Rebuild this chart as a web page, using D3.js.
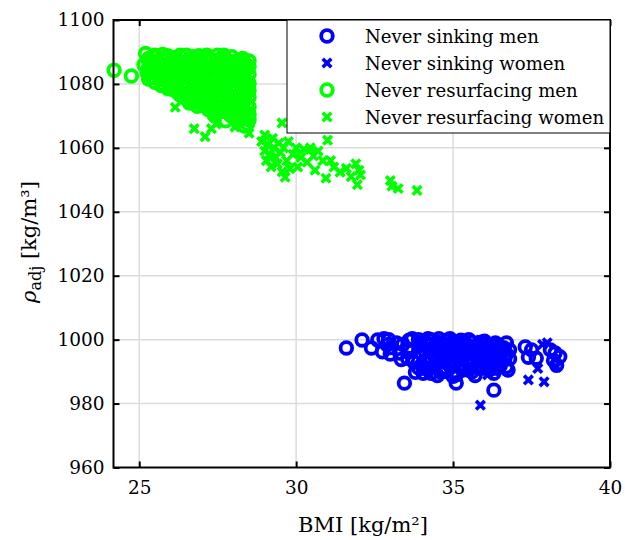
<!DOCTYPE html>
<html>
<head>
<meta charset="utf-8">
<script src="https://cdn.jsdelivr.net/npm/d3@7"></script>
<style>
  html, body { margin: 0; padding: 0; background: #fff; }
  svg text { font-family: "DejaVu Serif", serif; fill: #000; }
</style>
</head>
<body>
<svg id="chart" width="625" height="540"></svg>
<script>
// [BMI, rho_adj] pairs for each group
const sinkingMen = [
  [31.6,997.4],[32.1,999.9],[32.4,997.4],[32.6,999.9],[32.8,1000.3],[32.75,996.2],[33.2,999.0],
  [33.3,995.8],[33.55,994.2],[33.7,1000.3],[33.45,986.4],[33.9,991.2],[35.1,986.4],[34.6,989.9],
  [35.6,989.9],[36.3,984.2],[36.5,995.2],[36.7,991.5],[37.3,997.7],[37.65,994.2],[37.5,996.8],
  [38.1,996.8],[38.4,994.7],[38.3,992.0],[38.25,995.8],[36.8,996.8],
  [33.6,997.0],[33.75,993.0],[33.8,989.8],[33.9,998.0],[34.0,995.5],[34.1,999.5],[34.15,993.0],
  [34.25,997.0],[34.3,1000.0],[34.35,991.5],[34.4,995.0],[34.45,998.5],[34.5,993.5],[34.55,1000.3],
  [34.6,996.5],[34.65,991.0],[34.7,998.5],[34.75,994.5],[34.8,999.8],[34.85,992.5],[34.9,997.0],
  [34.95,995.0],[35.0,999.5],[35.05,990.0],[35.1,993.0],[35.15,997.5],[35.2,995.5],[35.25,999.8],
  [35.3,992.0],[35.35,996.5],[35.4,998.8],[35.45,994.0],[35.5,990.5],[35.55,997.0],[35.6,999.2],
  [35.65,993.0],[35.7,995.5],[35.75,991.5],[35.8,998.0],[35.85,994.0],[35.9,996.5],[36.0,992.5],
  [36.05,998.8],[36.1,995.0],[36.15,990.5],[36.2,997.0],[36.3,993.5],[36.35,999.0],[36.4,991.0],
  [36.45,995.8],[36.55,993.0],[36.6,997.5],[36.75,990.5],[36.8,994.0],[34.05,989.5],[34.2,1000.3],
  [34.5,988.8],[35.0,988.5],[35.3,995.0],[34.3,997.0],[34.8,996.0],[35.6,996.0],[36.0,999.5],
  [34.0,992.0],[33.4,998.5],[33.0,997.5],[32.95,1000.0],[37.4,994.5],[38.2,993.5],[36.65,994.0],
  [33.9,996.2],[33.9,1000.0],[34.1,991.0],[34.1,996.5],[34.3,989.5],[34.3,994.0],[34.3,998.5],
  [34.5,996.0],[34.5,999.2],[34.7,990.0],[34.7,993.0],[34.7,996.8],[34.9,992.0],[34.9,998.2],
  [34.9,1000.3],[35.1,989.0],[35.1,995.2],[35.1,998.5],[35.3,990.5],[35.3,997.2],[35.5,992.5],
  [35.5,995.5],[35.5,1000.0],[35.7,988.8],[35.7,997.8],[35.9,991.0],[35.9,993.2],[35.9,999.2],
  [36.1,993.0],[36.1,997.8],[36.3,989.5],[36.3,995.5],[36.3,998.2],[36.5,991.8],[36.5,997.0],
  [36.7,995.5],[36.7,999.0],[33.0,995.5],[33.35,993.8],[32.9,998.4],[33.6,999.8]
];
const sinkingWomen = [
  [35.87,979.5],[37.4,987.4],[37.9,986.8],[38.0,999.0],[36.4,999.0],[35.3,1000.3],[35.87,999.9],
  [37.7,991.0],[34.2,989.9],[38.3,991.5],[35.6,999.0],[36.0,995.0],[34.5,991.0],[35.2,993.0],
  [36.6,998.0],[37.85,998.5],[36.1,989.0],[34.9,990.5]
];
const resurfacingMen = [
  [24.2,1084.3],[24.75,1082.5],[25.15,1086.0],[25.2,1089.5],[25.3,1087.0],[25.35,1084.0],[25.4,1082.0],
  [25.5,1080.5],[25.55,1088.5],[25.6,1085.5],[25.7,1083.0],[25.75,1080.0],[25.8,1087.5],[25.9,1085.0],
  [25.95,1082.0],[26.0,1079.0],[26.05,1088.0],[26.1,1084.0],[26.15,1081.0],[26.2,1077.5],[26.25,1086.0],
  [26.3,1083.0],[26.35,1079.5],[26.4,1076.0],[26.5,1089.0],[26.55,1085.5],[26.6,1081.5],[26.65,1078.0],
  [26.7,1074.5],[26.75,1087.0],[26.8,1083.5],[26.85,1080.0],[26.9,1076.5],[26.95,1088.5],[27.0,1085.0],
  [27.05,1078.5],[27.1,1073.0],[27.15,1081.5],[27.2,1088.0],[27.25,1075.5],[27.3,1084.0],[27.35,1079.0],
  [27.4,1070.5],[27.45,1086.5],[27.5,1082.0],[27.55,1076.0],[27.6,1073.0],[27.65,1088.0],[27.7,1080.0],
  [27.75,1084.5],[27.8,1077.0],[27.85,1071.0],[27.9,1087.0],[27.95,1082.5],[28.0,1074.0],[28.05,1079.0],
  [28.1,1085.5],[28.1,1068.5],[28.15,1076.5],[28.2,1082.0],[28.2,1087.5],[28.25,1072.0],[28.3,1079.5],
  [28.3,1084.0],[28.35,1069.0],[28.35,1076.0],[28.4,1086.0],[28.4,1081.0],[28.45,1073.5],[28.45,1067.5],
  [28.5,1078.0],[28.5,1083.0],[28.5,1070.5],[25.25,1083.5],[25.45,1086.0],[25.65,1082.0],[25.85,1084.5],
  [26.0,1086.5],[26.2,1083.5],[26.4,1085.5],[26.45,1080.5],[26.6,1087.5],[26.7,1084.0],[26.8,1079.0],
  [26.95,1082.0],[27.05,1086.5],[27.1,1083.5],[27.2,1079.5],[27.3,1087.5],[27.4,1082.5],[27.45,1077.5],
  [27.55,1084.5],[27.6,1087.0],[27.7,1075.5],[27.8,1082.0],[27.85,1086.0],[27.95,1078.0],[28.0,1084.0],
  [28.05,1071.5],[28.15,1081.0],[28.25,1085.0],[28.3,1075.0],[28.4,1078.5],[28.45,1085.0],[28.2,1070.0],
  [26.6,1074.0],[27.4,1070.0],[26.85,1073.0],[27.2,1072.0],[27.0,1076.0],[26.3,1076.5],[25.95,1078.5],
  [27.65,1071.5],[27.9,1073.0],[28.35,1066.8],[27.75,1068.5],[28.0,1069.5],[27.5,1072.5],[26.9,1088.8],
  [27.15,1089.0],[27.5,1089.0],[27.95,1088.5],[28.3,1088.0],[26.15,1088.3],[25.75,1089.2],
  [25.3,1081.5],[25.3,1085.5],[25.3,1088.0],[25.5,1083.5],[25.5,1086.8],[25.5,1089.0],[25.7,1079.5],
  [25.7,1085.0],[25.7,1087.8],[25.9,1080.5],[25.9,1083.2],[25.9,1086.2],[25.9,1088.8],[26.1,1078.2],
  [26.1,1082.0],[26.1,1085.0],[26.1,1087.5],[26.3,1077.0],[26.3,1081.5],[26.3,1084.2],[26.3,1087.0],
  [26.3,1089.0],[26.5,1075.5],[26.5,1078.8],[26.5,1082.5],[26.5,1086.5],[26.7,1076.2],[26.7,1079.8],
  [26.7,1085.2],[26.7,1088.5],[26.9,1074.0],[26.9,1078.0],[26.9,1081.0],[26.9,1084.8],[26.9,1087.2],
  [27.1,1075.0],[27.1,1077.5],[27.1,1080.2],[27.1,1085.8],[27.1,1088.2],[27.3,1071.5],[27.3,1074.2],
  [27.3,1077.2],[27.3,1081.2],[27.3,1085.0],[27.5,1071.0],[27.5,1074.5],[27.5,1079.5],[27.5,1085.5],
  [27.5,1087.5],[27.7,1072.8],[27.7,1077.8],[27.7,1081.5],[27.7,1086.0],[27.7,1089.0],[27.9,1070.2],
  [27.9,1075.8],[27.9,1080.8],[27.9,1084.2],[28.1,1073.2],[28.1,1078.2],[28.1,1083.0],[28.1,1087.0],
  [28.3,1070.8],[28.3,1073.8],[28.3,1077.5],[28.3,1081.8],[28.3,1086.5],[28.5,1068.8],[28.5,1072.8],
  [28.5,1075.8],[28.5,1080.2],[28.5,1085.5],[28.5,1087.2]
];
const resurfacingWomen = [
  [25.9,1078.0],[26.3,1080.0],[26.8,1077.0],[27.2,1082.0],[27.6,1079.0],[28.0,1082.0],[28.3,1075.0],
  [26.15,1072.7],[26.75,1066.0],[27.1,1063.5],[27.3,1066.0],[27.45,1067.5],[28.05,1066.5],[28.5,1064.6],
  [28.45,1070.0],[29.55,1067.8],[31.0,1062.4],
  [28.9,1062.0],[29.0,1059.0],[29.05,1056.0],[29.1,1061.0],[29.15,1058.0],[29.2,1054.0],[29.25,1063.0],
  [29.3,1060.0],[29.35,1057.0],[29.4,1055.0],[29.45,1061.5],[29.5,1058.5],[29.55,1052.5],[29.6,1060.0],
  [29.7,1056.0],[29.75,1062.0],[29.8,1053.5],[29.9,1058.0],[30.0,1060.0],[30.05,1054.0],[30.15,1057.0],
  [30.25,1059.5],[30.35,1055.5],[30.45,1060.0],[30.55,1057.5],[30.6,1053.0],[30.7,1059.0],[30.85,1056.0],
  [30.95,1050.5],[31.1,1056.0],[31.2,1054.0],[31.4,1052.4],[31.6,1053.6],[31.75,1051.0],[31.9,1055.0],
  [32.0,1053.0],[32.05,1051.5],[31.95,1048.5],[33.0,1049.8],[33.05,1048.0],[33.25,1047.3],[33.85,1046.7],
  [29.65,1050.8],[29.0,1064.0],[29.2,1057.0]
];

const xTicks = [25, 30, 35, 40];
const yTicks = [960, 980, 1000, 1020, 1040, 1060, 1080, 1100];

const series = [
  { name: "Never sinking men",        data: sinkingMen,       color: "#0000ff", shape: "circle" },
  { name: "Never sinking women",      data: sinkingWomen,     color: "#0000ff", shape: "cross" },
  { name: "Never resurfacing men",    data: resurfacingMen,   color: "#00ff00", shape: "circle" },
  { name: "Never resurfacing women",  data: resurfacingWomen, color: "#00ff00", shape: "cross" }
];

const svg = d3.select("#chart");
const plot = { left: 113.5, right: 610, top: 20, bottom: 467.5 };
const FONT = 18.5;        // tick labels
const TITLE_FONT = 21;    // axis titles
const LEGEND_FONT = 18.1;
const FAMILY = "DejaVu Serif";

const x = d3.scaleLinear().domain([24.18, 40]).range([plot.left, plot.right]);
const y = d3.scaleLinear().domain([960, 1100]).range([plot.bottom, plot.top]);

// grid
const grid = svg.append("g");
grid.selectAll("line.gx").data(xTicks.filter(t => t < 40)).join("line")
  .attr("x1", d => x(d)).attr("x2", d => x(d))
  .attr("y1", plot.top).attr("y2", plot.bottom)
  .attr("stroke", "#dcdcdc").attr("stroke-width", 1.5);
grid.selectAll("line.gy").data(yTicks.filter(t => t > 960 && t < 1100)).join("line")
  .attr("y1", d => y(d)).attr("y2", d => y(d))
  .attr("x1", plot.left).attr("x2", plot.right)
  .attr("stroke", "#dcdcdc").attr("stroke-width", 1.5);

// markers
const R = 5.8, CW = 3.8, H = 4.3, XW = 3.6;
function crossPath(h) { return `M${-h},${-h}L${h},${h}M${-h},${h}L${h},${-h}`; }

function drawMarks(g, s) {
  if (s.shape === "circle") {
    g.selectAll("circle").data(s.data).join("circle")
      .attr("cx", d => x(d[0])).attr("cy", d => y(d[1])).attr("r", R)
      .attr("fill", "none").attr("stroke", s.color).attr("stroke-width", CW);
  } else {
    g.selectAll("path").data(s.data).join("path")
      .attr("transform", d => `translate(${x(d[0])},${y(d[1])})`)
      .attr("d", crossPath(H))
      .attr("fill", "none").attr("stroke", s.color).attr("stroke-width", XW);
  }
}
const marks = svg.append("g");
series.forEach(s => drawMarks(marks.append("g"), s));

// axes: inward ticks on all four sides
const TL = 6;
const axB = svg.append("g").attr("transform", `translate(0,${plot.bottom})`)
  .call(d3.axisBottom(x).tickValues(xTicks).tickSizeInner(-TL).tickSizeOuter(0).tickPadding(13).tickFormat(d3.format("d")));
const axT = svg.append("g").attr("transform", `translate(0,${plot.top})`)
  .call(d3.axisTop(x).tickValues(xTicks).tickSizeInner(-TL).tickSizeOuter(0).tickFormat(""));
const axL = svg.append("g").attr("transform", `translate(${plot.left},0)`)
  .call(d3.axisLeft(y).tickValues(yTicks).tickSizeInner(-TL).tickSizeOuter(0).tickPadding(9).tickFormat(d3.format("d")));
const axR = svg.append("g").attr("transform", `translate(${plot.right},0)`)
  .call(d3.axisRight(y).tickValues(yTicks).tickSizeInner(-TL).tickSizeOuter(0).tickFormat(""));
[axB, axT, axL, axR].forEach(a => {
  a.attr("font-family", FAMILY);
  a.select(".domain").remove();
  a.selectAll(".tick line").attr("stroke", "#000").attr("stroke-width", 2);
  a.selectAll(".tick text").style("font-size", FONT + "px").style("font-family", FAMILY);
});
axB.selectAll(".tick text").attr("dy", "0.71em");

svg.append("rect")
  .attr("x", plot.left).attr("y", plot.top)
  .attr("width", plot.right - plot.left).attr("height", plot.bottom - plot.top)
  .attr("fill", "none").attr("stroke", "#000").attr("stroke-width", 2);

// axis titles
svg.append("text")
  .attr("x", 363).attr("y", 532)
  .attr("text-anchor", "middle").style("font-size", TITLE_FONT + "px").style("font-family", FAMILY)
  .text("BMI [kg/m²]");

const yl = svg.append("text")
  .attr("transform", "translate(36,242) rotate(-90)")
  .attr("text-anchor", "middle").style("font-size", TITLE_FONT + "px").style("font-family", FAMILY);
yl.append("tspan").style("font-style", "italic").text("ρ");
yl.append("tspan").attr("dy", 5).style("font-size", "16px").text("adj");
yl.append("tspan").attr("dy", -5).text(" [kg/m³]");

// legend
const lg = svg.append("g");
lg.append("rect").attr("x", 287).attr("y", plot.top)
  .attr("width", plot.right - 287).attr("height", 113)
  .attr("fill", "#fff").attr("stroke", "#000").attr("stroke-width", 1);
series.forEach((s, i) => {
  const cy = 36 + i * 27;
  const row = lg.append("g").attr("transform", `translate(327,${cy})`);
  if (s.shape === "circle") {
    row.append("circle").attr("r", R).attr("fill", "none").attr("stroke", s.color).attr("stroke-width", CW);
  } else {
    row.append("path").attr("d", crossPath(H)).attr("fill", "none").attr("stroke", s.color).attr("stroke-width", XW);
  }
  lg.append("text").attr("x", 365).attr("y", cy).attr("dy", "0.36em")
    .style("font-size", LEGEND_FONT + "px").style("font-family", FAMILY).text(s.name);
});
</script>
</body>
</html>
